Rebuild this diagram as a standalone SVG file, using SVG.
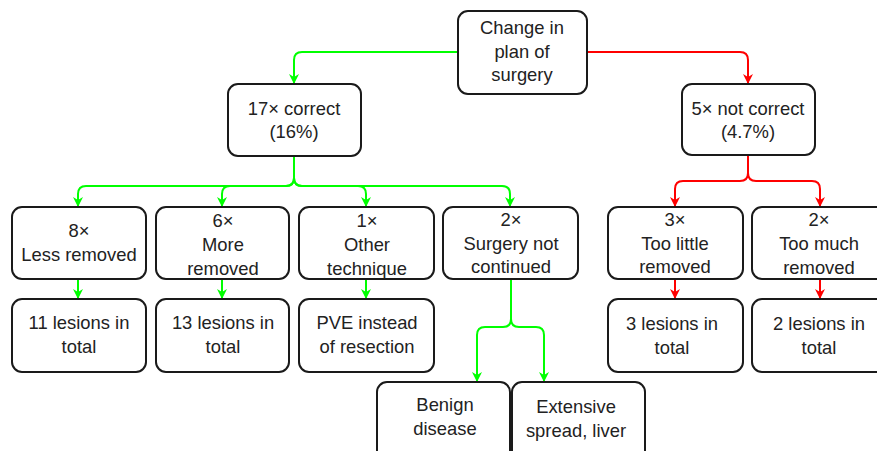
<svg xmlns="http://www.w3.org/2000/svg" width="877" height="451" viewBox="0 0 877 451">
<style>
.box{fill:#fff;stroke:#1a1a1a;stroke-width:2}
.t{font-family:"Liberation Sans",Arial,sans-serif;font-size:18.4px;fill:#222;text-anchor:middle}
.g{fill:none;stroke:#00ff00;stroke-width:2}
.r{fill:none;stroke:#ff0000;stroke-width:2}
</style>
<defs>
<marker id="ag" markerUnits="userSpaceOnUse" markerWidth="12" markerHeight="12" refX="10" refY="5" orient="auto">
<path d="M0,0 L10,5 L0,10 L3,5 z" fill="#00ff00"/>
</marker>
<marker id="ar" markerUnits="userSpaceOnUse" markerWidth="12" markerHeight="12" refX="10" refY="5" orient="auto">
<path d="M0,0 L10,5 L0,10 L3,5 z" fill="#ff0000"/>
</marker>
</defs>
<g id="connectors">
<path class="g" marker-end="url(#ag)" d="M458,52 H302 Q294,52 294,60 V84"/>
<path class="r" marker-end="url(#ar)" d="M587,52 H740 Q748,52 748,60 V84"/>
<path class="g" marker-end="url(#ag)" d="M294,156 V178 Q294,186 286,186 H86 Q78,186 78,194 V207"/>
<path class="g" marker-end="url(#ag)" d="M294,156 V178 Q294,186 286,186 H230 Q222,186 222,194 V207"/>
<path class="g" marker-end="url(#ag)" d="M294,156 V178 Q294,186 302,186 H358 Q366,186 366,194 V207"/>
<path class="g" marker-end="url(#ag)" d="M294,156 V178 Q294,186 302,186 H502 Q510,186 510,194 V207"/>
<path class="r" marker-end="url(#ar)" d="M748,155 V173 Q748,181 740,181 H683 Q675,181 675,189 V207"/>
<path class="r" marker-end="url(#ar)" d="M748,155 V173 Q748,181 756,181 H812 Q820,181 820,189 V207"/>
<path class="g" marker-end="url(#ag)" d="M78,279 V299"/>
<path class="g" marker-end="url(#ag)" d="M222,279 V299"/>
<path class="g" marker-end="url(#ag)" d="M366,279 V299"/>
<path class="r" marker-end="url(#ar)" d="M675,279 V299"/>
<path class="r" marker-end="url(#ar)" d="M820,279 V299"/>
<path class="g" marker-end="url(#ag)" d="M511,279 V319 Q511,327 503,327 H485 Q477,327 477,335 V382"/>
<path class="g" marker-end="url(#ag)" d="M511,279 V319 Q511,327 519,327 H536 Q544,327 544,335 V382"/>
</g>
<g id="n-change">
<rect class="box" x="458" y="11" width="129" height="83" rx="10"/>
<text class="t" x="522" y="34">Change in</text>
<text class="t" x="522" y="57.5">plan of</text>
<text class="t" x="522" y="81">surgery</text>
</g>
<g id="n-correct">
<rect class="box" x="228" y="84" width="133" height="72" rx="10"/>
<text class="t" x="294" y="115">17× correct</text>
<text class="t" x="294" y="138">(16%)</text>
</g>
<g id="n-notcorrect">
<rect class="box" x="682" y="84" width="133" height="71" rx="10"/>
<text class="t" x="748" y="115">5× not correct</text>
<text class="t" x="748" y="138">(4.7%)</text>
</g>
<g id="n-less">
<rect class="box" x="12" y="207" width="134" height="72" rx="10"/>
<text class="t" x="79" y="237">8×</text>
<text class="t" x="79" y="261">Less removed</text>
</g>
<g id="n-more">
<rect class="box" x="156" y="207" width="133" height="72" rx="10"/>
<text class="t" x="223" y="227">6×</text>
<text class="t" x="223" y="251">More</text>
<text class="t" x="223" y="275">removed</text>
</g>
<g id="n-other">
<rect class="box" x="299" y="207" width="135" height="72" rx="10"/>
<text class="t" x="367" y="227">1×</text>
<text class="t" x="367" y="251">Other</text>
<text class="t" x="367" y="275">technique</text>
</g>
<g id="n-notcont">
<rect class="box" x="443" y="207" width="135" height="72" rx="10"/>
<text class="t" x="511" y="226">2×</text>
<text class="t" x="511" y="250">Surgery not</text>
<text class="t" x="511" y="273">continued</text>
</g>
<g id="n-little">
<rect class="box" x="608" y="207" width="135" height="72" rx="10"/>
<text class="t" x="675" y="226">3×</text>
<text class="t" x="675" y="250">Too little</text>
<text class="t" x="675" y="273">removed</text>
</g>
<g id="n-much">
<rect class="box" x="752" y="207" width="135" height="72" rx="10"/>
<text class="t" x="819" y="226">2×</text>
<text class="t" x="819" y="250">Too much</text>
<text class="t" x="819" y="274">removed</text>
</g>
<g id="n-11">
<rect class="box" x="12" y="299" width="134" height="73" rx="10"/>
<text class="t" x="79" y="329">11 lesions in</text>
<text class="t" x="79" y="353">total</text>
</g>
<g id="n-13">
<rect class="box" x="156" y="299" width="133" height="73" rx="10"/>
<text class="t" x="223" y="329">13 lesions in</text>
<text class="t" x="223" y="353">total</text>
</g>
<g id="n-pve">
<rect class="box" x="299" y="299" width="135" height="73" rx="10"/>
<text class="t" x="367" y="329">PVE instead</text>
<text class="t" x="367" y="353">of resection</text>
</g>
<g id="n-3">
<rect class="box" x="608" y="299" width="135" height="73" rx="10"/>
<text class="t" x="672" y="330">3 lesions in</text>
<text class="t" x="672" y="354">total</text>
</g>
<g id="n-2">
<rect class="box" x="752" y="299" width="135" height="73" rx="10"/>
<text class="t" x="819" y="330">2 lesions in</text>
<text class="t" x="819" y="354">total</text>
</g>
<g id="n-benign">
<rect class="box" x="377" y="382" width="133" height="80" rx="10"/>
<text class="t" x="445" y="411">Benign</text>
<text class="t" x="445" y="435">disease</text>
</g>
<g id="n-extensive">
<rect class="box" x="512" y="382" width="133" height="80" rx="10"/>
<text class="t" x="576" y="413">Extensive</text>
<text class="t" x="576" y="437">spread, liver</text>
</g>
</svg>
